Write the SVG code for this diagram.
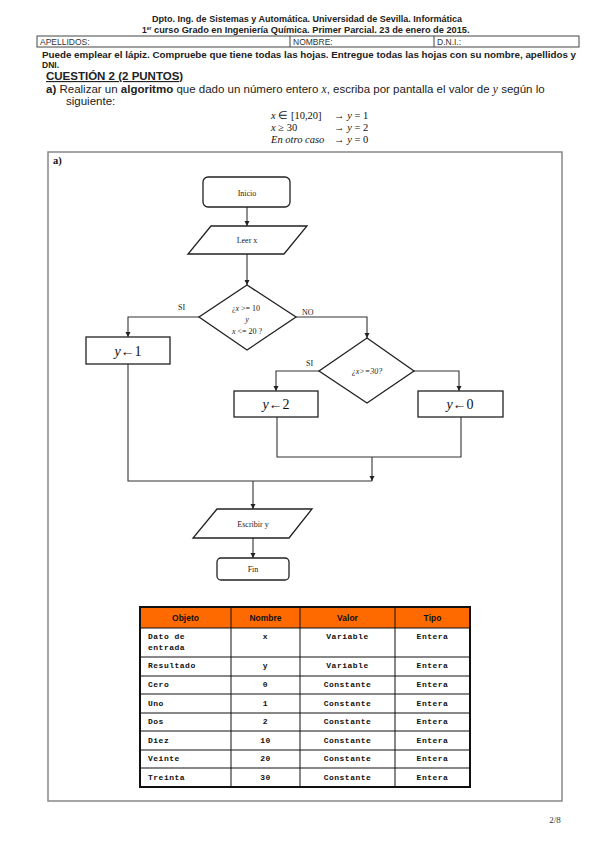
<svg xmlns="http://www.w3.org/2000/svg" width="599" height="848" viewBox="0 0 599 848">
<style>
.hd{font-family:"Liberation Sans",Arial,sans-serif;font-size:8.5px;font-weight:bold;fill:#222}
.sm{font-family:"Liberation Sans",Arial,sans-serif;font-size:8.5px;fill:#333}
.bd{font-family:"Liberation Sans",Arial,sans-serif;fill:#222}
.mt{font-family:"Liberation Serif","Times New Roman",serif;font-size:10.5px;fill:#111}
.fc{font-family:"Liberation Serif","Times New Roman",serif;font-size:8px;fill:#222}
.as{font-family:"Liberation Serif","Times New Roman",serif;font-size:14px;fill:#111}
.nd{fill:#fff;stroke:#222;stroke-width:1.3}
.ln{fill:none;stroke:#333;stroke-width:1.1}
.tb{font-family:"Liberation Mono","Courier New",monospace;font-size:8px;font-weight:bold;letter-spacing:0.5px;fill:#111}
.th{font-family:"Liberation Sans",Arial,sans-serif;font-size:8.5px;font-weight:bold;fill:#111}
.tl{stroke:#111;stroke-width:1}
</style>
<defs>
<marker id="ar" viewBox="0 0 8 8" refX="8" refY="4" markerWidth="5" markerHeight="5" orient="auto">
<path d="M0,0 L8,4 L0,8 z" fill="#222"/>
</marker>
</defs>
<rect width="599" height="848" fill="#fff"/>
<g id="header">
<text class="hd" x="152" y="22" textLength="310" lengthAdjust="spacingAndGlyphs">Dpto. Ing. de Sistemas y Automática. Universidad de Sevilla. Informática</text>
<text class="hd" x="142" y="33">1<tspan font-size="5" dy="-3">er</tspan><tspan dy="3" textLength="318" lengthAdjust="spacingAndGlyphs"> curso Grado en Ingeniería Química. Primer Parcial. 23 de enero de 2015.</tspan></text>
<rect x="37" y="36" width="542" height="11" fill="none" stroke="#444" stroke-width="1"/>
<line x1="290" y1="36" x2="290" y2="47" stroke="#444"/>
<line x1="434" y1="36" x2="434" y2="47" stroke="#444"/>
<text class="sm" x="40" y="45">APELLIDOS:</text>
<text class="sm" x="293" y="45">NOMBRE:</text>
<text class="sm" x="437" y="45">D.N.I.:</text>
<text class="hd" x="42" y="58" textLength="534" lengthAdjust="spacingAndGlyphs">Puede emplear el lápiz. Compruebe que tiene todas las hojas. Entregue todas las hojas con su nombre, apellidos y</text>
<text class="hd" x="42" y="68">DNI.</text>
<text class="bd" x="46" y="80" font-size="11.5" font-weight="bold" text-decoration="underline">CUESTIÓN 2 (2 PUNTOS)</text>
<text class="bd" x="46" y="93" font-size="11.5"><tspan font-weight="bold">a)</tspan>  Realizar un <tspan font-weight="bold">algoritmo</tspan> que dado un número entero <tspan font-family="Liberation Serif" font-style="italic">x</tspan>, escriba por pantalla el valor de <tspan font-family="Liberation Serif" font-style="italic">y</tspan> según lo</text>
<text class="bd" x="66" y="105" font-size="11.5">siguiente:</text>
<text class="mt" x="271" y="119"><tspan font-style="italic">x</tspan> ∈ [10,20]</text>
<text class="mt" x="334" y="119">→ <tspan font-style="italic">y</tspan> = 1</text>
<text class="mt" x="271" y="131"><tspan font-style="italic">x</tspan> ≥ 30</text>
<text class="mt" x="334" y="131">→ <tspan font-style="italic">y</tspan> = 2</text>
<text class="mt" x="271" y="143" font-style="italic">En otro caso</text>
<text class="mt" x="334" y="143">→ <tspan font-style="italic">y</tspan> = 0</text>
</g>
<g id="frame">
<rect x="48" y="152" width="514" height="649" fill="none" stroke="#888" stroke-width="1.5"/>
<text x="53" y="164" font-family="Liberation Serif,serif" font-size="10.5" font-weight="bold" fill="#111">a)</text>
</g>
<g id="connectors">
<path class="ln" d="M247,207 V226" marker-end="url(#ar)"/>
<path class="ln" d="M247,254 V285" marker-end="url(#ar)"/>
<path class="ln" d="M199,317 H128 V337" marker-end="url(#ar)"/>
<path class="ln" d="M296,317 H367 V338" marker-end="url(#ar)"/>
<path class="ln" d="M319,371 H276 V391" marker-end="url(#ar)"/>
<path class="ln" d="M414,371 H459 V391" marker-end="url(#ar)"/>
<path class="ln" d="M277,417 V457 H461 V417"/>
<path class="ln" d="M372,457 V481" marker-end="url(#ar)"/>
<path class="ln" d="M128,364 V481 H372"/>
<path class="ln" d="M253,481 V509" marker-end="url(#ar)"/>
<path class="ln" d="M253,538 V558" marker-end="url(#ar)"/>
<text class="fc" x="178" y="310" font-size="9">SI</text>
<text class="fc" x="302" y="315" font-size="9">NO</text>
<text class="fc" x="306" y="366" font-size="9">SI</text>
</g>
<g id="inicio">
<rect class="nd" x="203" y="177" width="87" height="30" rx="5"/>
<text class="fc" x="247" y="196" text-anchor="middle">Inicio</text>
</g>
<g id="leer">
<polygon class="nd" points="211,226 307,226 284,254 188,254"/>
<text class="fc" x="247" y="243" text-anchor="middle">Leer x</text>
</g>
<g id="cond1">
<polygon class="nd" points="247,285 296,317 247,350 199,317"/>
<text class="fc" x="246" y="311" text-anchor="middle" font-size="7">¿<tspan font-style="italic">x</tspan> &gt;= 10</text>
<text class="fc" x="247" y="322" text-anchor="middle" font-size="7" font-style="italic">y</text>
<text class="fc" x="247" y="334" text-anchor="middle" font-size="7"><tspan font-style="italic">x</tspan> &lt;= 20 ?</text>
</g>
<g id="y1">
<rect class="nd" x="86" y="337" width="84" height="27"/>
<text class="as" x="128" y="356" text-anchor="middle"><tspan font-style="italic">y</tspan>←1</text>
</g>
<g id="cond2">
<polygon class="nd" points="367,338 414,371 367,403 319,371"/>
<text class="fc" x="367" y="374" text-anchor="middle" font-size="7" font-style="italic">¿x&gt;=30?</text>
</g>
<g id="y2">
<rect class="nd" x="234" y="391" width="84" height="26"/>
<text class="as" x="276" y="409" text-anchor="middle"><tspan font-style="italic">y</tspan>←2</text>
</g>
<g id="y0">
<rect class="nd" x="418" y="391" width="85" height="26"/>
<text class="as" x="460" y="409" text-anchor="middle"><tspan font-style="italic">y</tspan>←0</text>
</g>
<g id="escribir">
<polygon class="nd" points="217,509 312,509 289,538 193,538"/>
<text class="fc" x="253" y="527" text-anchor="middle">Escribir y</text>
</g>
<g id="fin">
<rect class="nd" x="217" y="558" width="72" height="22" rx="4"/>
<text class="fc" x="253" y="572" text-anchor="middle">Fin</text>
</g>
<g id="tabla">
<rect x="140" y="607" width="330" height="21" fill="#FF6A00"/>
<g class="tl">
<line x1="140" y1="628" x2="470" y2="628"/>
<line x1="140" y1="657" x2="470" y2="657"/>
<line x1="140" y1="676" x2="470" y2="676"/>
<line x1="140" y1="694" x2="470" y2="694"/>
<line x1="140" y1="713" x2="470" y2="713"/>
<line x1="140" y1="731" x2="470" y2="731"/>
<line x1="140" y1="750" x2="470" y2="750"/>
<line x1="140" y1="768" x2="470" y2="768"/>
<line x1="231" y1="607" x2="231" y2="787"/>
<line x1="300" y1="607" x2="300" y2="787"/>
<line x1="395" y1="607" x2="395" y2="787"/>
</g>
<rect x="140" y="607" width="330" height="180" fill="none" stroke="#111" stroke-width="2"/>
<text class="th" x="185.5" y="621" text-anchor="middle">Objeto</text>
<text class="th" x="265.5" y="621" text-anchor="middle">Nombre</text>
<text class="th" x="347.5" y="621" text-anchor="middle">Valor</text>
<text class="th" x="432.5" y="621" text-anchor="middle">Tipo</text>
<text class="tb" x="148" y="639">Dato de</text>
<text class="tb" x="148" y="650">entrada</text>
<text class="tb" x="265.5" y="639" text-anchor="middle">x</text>
<text class="tb" x="347.5" y="639" text-anchor="middle">Variable</text>
<text class="tb" x="432.5" y="639" text-anchor="middle">Entera</text>
<text class="tb" x="148" y="668">Resultado</text>
<text class="tb" x="265.5" y="668" text-anchor="middle">y</text>
<text class="tb" x="347.5" y="668" text-anchor="middle">Variable</text>
<text class="tb" x="432.5" y="668" text-anchor="middle">Entera</text>
<text class="tb" x="148" y="687">Cero</text>
<text class="tb" x="265.5" y="687" text-anchor="middle">0</text>
<text class="tb" x="347.5" y="687" text-anchor="middle">Constante</text>
<text class="tb" x="432.5" y="687" text-anchor="middle">Entera</text>
<text class="tb" x="148" y="706">Uno</text>
<text class="tb" x="265.5" y="706" text-anchor="middle">1</text>
<text class="tb" x="347.5" y="706" text-anchor="middle">Constante</text>
<text class="tb" x="432.5" y="706" text-anchor="middle">Entera</text>
<text class="tb" x="148" y="724">Dos</text>
<text class="tb" x="265.5" y="724" text-anchor="middle">2</text>
<text class="tb" x="347.5" y="724" text-anchor="middle">Constante</text>
<text class="tb" x="432.5" y="724" text-anchor="middle">Entera</text>
<text class="tb" x="148" y="743">Diez</text>
<text class="tb" x="265.5" y="743" text-anchor="middle">10</text>
<text class="tb" x="347.5" y="743" text-anchor="middle">Constante</text>
<text class="tb" x="432.5" y="743" text-anchor="middle">Entera</text>
<text class="tb" x="148" y="761">Veinte</text>
<text class="tb" x="265.5" y="761" text-anchor="middle">20</text>
<text class="tb" x="347.5" y="761" text-anchor="middle">Constante</text>
<text class="tb" x="432.5" y="761" text-anchor="middle">Entera</text>
<text class="tb" x="148" y="780">Treinta</text>
<text class="tb" x="265.5" y="780" text-anchor="middle">30</text>
<text class="tb" x="347.5" y="780" text-anchor="middle">Constante</text>
<text class="tb" x="432.5" y="780" text-anchor="middle">Entera</text>
</g>
<text x="555" y="823" text-anchor="middle" font-family="Liberation Serif,serif" font-size="9" fill="#333">2/8</text>
</svg>
